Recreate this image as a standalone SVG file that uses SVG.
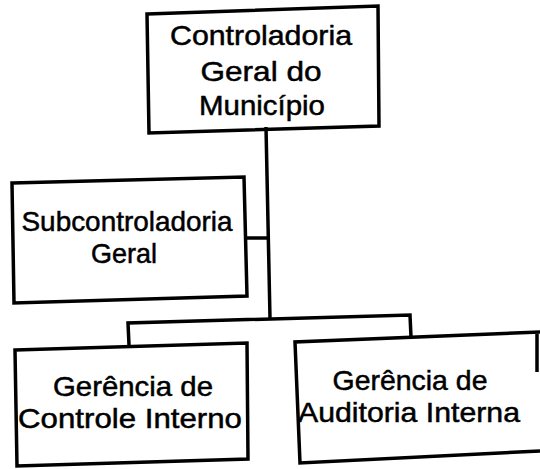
<svg xmlns="http://www.w3.org/2000/svg" width="540" height="469" viewBox="0 0 540 469">
<style>
.box{fill:none;stroke:#000;stroke-width:3.5;stroke-linejoin:miter}
.con{fill:none;stroke:#000;stroke-width:3.5}
.t{font-family:"Liberation Sans",Arial,sans-serif;font-size:28px;fill:#000;stroke:#000;stroke-width:0.5;text-anchor:middle}
</style>
<rect width="540" height="469" fill="#fff"/>
<g id="connectors">
<polyline class="con" points="266,127 270,318"/>
<polyline class="con" points="247,238 268,238"/>
<polyline class="con" points="129,345 128,323 410,315 411,337"/>
</g>
<g id="controladoria">
<polygon class="box" points="147,14 378,6 379,126 149,133"/>
<text class="t" x="261" y="45" textLength="182" lengthAdjust="spacingAndGlyphs">Controladoria</text>
<text class="t" x="261" y="81" textLength="121" lengthAdjust="spacingAndGlyphs">Geral do</text>
<text class="t" x="262" y="115" textLength="126" lengthAdjust="spacingAndGlyphs">Município</text>
</g>
<g id="subcontroladoria">
<polygon class="box" points="12,183 244,177 247,296 14,303"/>
<text class="t" x="127" y="231" textLength="211" lengthAdjust="spacingAndGlyphs">Subcontroladoria</text>
<text class="t" x="124" y="263" textLength="66" lengthAdjust="spacingAndGlyphs">Geral</text>
</g>
<g id="gerencia-controle">
<polygon class="box" points="15,350 247,343 248,459 17,466"/>
<text class="t" x="133" y="396" textLength="160" lengthAdjust="spacingAndGlyphs">Gerência de</text>
<text class="t" x="130" y="428" textLength="224" lengthAdjust="spacingAndGlyphs">Controle Interno</text>
</g>
<g id="gerencia-auditoria">
<path class="box" d="M540,332 L295,342 L300,463 L540,451 M537,333 L537,372"/>
<text class="t" x="410" y="390" textLength="155" lengthAdjust="spacingAndGlyphs">Gerência de</text>
<text class="t" x="409" y="422" textLength="222" lengthAdjust="spacingAndGlyphs">Auditoria Interna</text>
</g>
</svg>
